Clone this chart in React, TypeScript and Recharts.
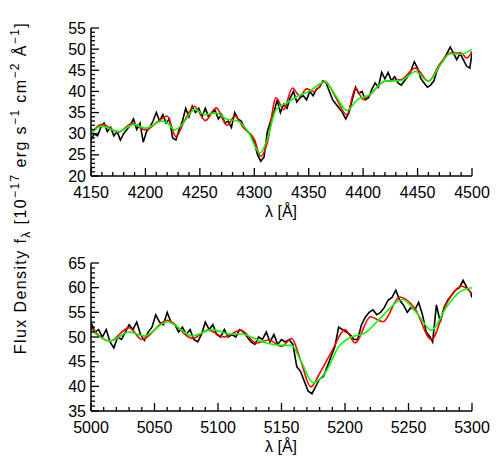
import React from "react";
import { LineChart, Line, XAxis, YAxis } from "recharts";

// wavelength grid (Å) and flux (10^-17 erg s^-1 cm^-2 Å^-1)
const topObsWave = [4150, 4153, 4156, 4159, 4162, 4165, 4168, 4171, 4174, 4177, 4180, 4183, 4186, 4189, 4192, 4195, 4198, 4201, 4204, 4207, 4210, 4213, 4216, 4219, 4222, 4225, 4228, 4231, 4234, 4237, 4240, 4243, 4246, 4249, 4252, 4255, 4258, 4261, 4264, 4267, 4270, 4273, 4276, 4279, 4282, 4285, 4288, 4291, 4294, 4297, 4300, 4303, 4306, 4309, 4312, 4315, 4318, 4321, 4324, 4327, 4330, 4333, 4336, 4339, 4342, 4345, 4348, 4351, 4354, 4357, 4360, 4363, 4366, 4369, 4372, 4375, 4378, 4381, 4384, 4387, 4390, 4393, 4396, 4399, 4402, 4405, 4408, 4411, 4414, 4417, 4420, 4423, 4426, 4429, 4432, 4435, 4438, 4441, 4444, 4447, 4450, 4453, 4456, 4459, 4462, 4465, 4468, 4471, 4474, 4477, 4480, 4483, 4486, 4489, 4492, 4495, 4498, 4500];
const topObsFlux = [28.5, 30, 29.5, 31.5, 32.5, 30.5, 31.5, 29.5, 30.5, 28.5, 30, 31, 32, 33.5, 31, 32.5, 28, 30.5, 31.5, 33, 35, 33, 34.5, 32.5, 33.5, 29, 28.5, 31, 33, 36, 34, 36.5, 35, 36, 34, 36, 34, 35, 35.5, 33.5, 34.5, 32.5, 33, 31.5, 35, 33.5, 33, 31.5, 30.5, 29.5, 28, 25, 23.5, 24.5, 30.5, 33, 35, 38, 35, 37, 36, 38.5, 40, 37.5, 38.5, 39, 38, 40, 39, 40.5, 41, 42.5, 42, 40, 38, 37, 36, 35, 33.5, 35, 38, 41, 39.5, 40, 38, 38.5, 40.5, 42, 41, 44.5, 43, 44.5, 42.5, 43.5, 42, 41.5, 42.5, 43.5, 45, 47, 45.5, 43, 42, 41, 41.5, 42.5, 45, 46.5, 47.5, 49, 50.5, 49, 47.5, 49, 47.5, 46, 45.5, 49];

const topRedWave = [4150, 4160, 4175, 4188, 4200, 4212, 4220, 4228, 4235, 4245, 4255, 4265, 4275, 4282, 4290, 4300, 4306, 4312, 4320, 4327, 4335, 4342, 4348, 4355, 4365, 4375, 4385, 4393, 4400, 4405, 4420, 4435, 4448, 4460, 4470, 4480, 4490, 4495, 4500];
const topRedFlux = [30, 32.2, 30.4, 32.4, 30.9, 33, 34.2, 29.3, 32.6, 36.5, 33.1, 36.1, 32, 34.2, 31.4, 28.7, 24.6, 27.9, 38.5, 35.7, 40.8, 38.9, 40.6, 40, 42.4, 38.5, 34.5, 40.8, 38.1, 38.9, 42.4, 42.8, 45.5, 42.4, 46.3, 49.1, 49.1, 47.9, 49.5];

const topGreenWave = [4150, 4160, 4175, 4190, 4200, 4215, 4220, 4227, 4235, 4245, 4255, 4265, 4275, 4285, 4295, 4305, 4312, 4320, 4330, 4340, 4350, 4365, 4375, 4385, 4395, 4405, 4420, 4435, 4448, 4460, 4470, 4480, 4490, 4500];
const topGreenFlux = [30, 31.8, 30.5, 32.2, 31.3, 33, 32.6, 30.9, 32.6, 35.7, 34.5, 34.9, 33.4, 33, 30.2, 25.4, 28.7, 35.7, 37.3, 38.9, 40, 42.2, 38.9, 35.5, 38.1, 39.1, 42.4, 42.6, 44.7, 42.4, 45.9, 48.9, 48.8, 50];

const botObsWave = [5000, 5003, 5006, 5009, 5012, 5015, 5018, 5021, 5024, 5027, 5030, 5033, 5036, 5039, 5042, 5045, 5048, 5051, 5054, 5057, 5060, 5063, 5066, 5069, 5072, 5075, 5078, 5081, 5084, 5087, 5090, 5093, 5096, 5099, 5102, 5105, 5108, 5111, 5114, 5117, 5120, 5123, 5126, 5129, 5132, 5135, 5138, 5141, 5144, 5147, 5150, 5153, 5156, 5159, 5162, 5165, 5168, 5171, 5174, 5177, 5180, 5183, 5186, 5189, 5192, 5195, 5198, 5201, 5204, 5207, 5210, 5213, 5216, 5219, 5222, 5225, 5228, 5231, 5234, 5237, 5240, 5243, 5246, 5249, 5252, 5255, 5258, 5261, 5264, 5267, 5269, 5272, 5275, 5278, 5281, 5284, 5287, 5290, 5293, 5296, 5299, 5300];
const botObsFlux = [53, 51, 51.5, 50, 51.5, 49, 47.8, 50, 49.5, 51, 52.5, 51.5, 53, 50.5, 49.3, 51, 52, 54.5, 53, 52.5, 55, 53, 52.5, 51, 52, 50.5, 51.5, 49.5, 49, 50.5, 53, 51.5, 52.5, 50.5, 50, 51.5, 50, 50.5, 50, 51.5, 51, 50, 49, 48.5, 50, 49.5, 51, 49, 50.5, 48.5, 49.5, 49, 49.5, 48.5, 44, 43, 41, 39, 38.5, 40, 41.5, 42, 44, 46, 48, 52, 51.5, 51, 50.5, 49.5, 49.5, 52.5, 54, 55, 55.5, 54.5, 55, 56, 57.5, 58, 59.5, 57.5, 56.5, 55, 56, 55.5, 57, 54.5, 51, 50, 49, 56.5, 53, 56, 57.5, 58.5, 59.5, 60, 61.5, 60, 59, 58];

const botRedWave = [5000, 5015, 5030, 5040, 5060, 5080, 5092, 5105, 5118, 5130, 5140, 5150, 5158, 5165, 5173, 5180, 5190, 5200, 5208, 5220, 5230, 5243, 5255, 5268, 5280, 5292, 5300];
const botRedFlux = [51.9, 49.2, 51.9, 49.5, 53.4, 49.7, 51.4, 50, 51.4, 48.8, 49.4, 48.1, 49.7, 45.3, 39.9, 42.6, 47.3, 51.5, 48.8, 54.1, 53.1, 58.1, 55.8, 49.5, 56.8, 60.3, 58.8];

const botGreenWave = [5000, 5015, 5030, 5042, 5060, 5080, 5095, 5110, 5118, 5135, 5150, 5158, 5165, 5175, 5185, 5195, 5205, 5215, 5230, 5245, 5257, 5268, 5280, 5290, 5300];
const botGreenFlux = [51.5, 49.2, 51, 50.2, 53.1, 50.2, 51.5, 50.6, 50.6, 49, 48.3, 48.3, 45.3, 40.7, 43, 48, 50, 50.7, 54.4, 57.6, 54.7, 51.4, 56.1, 59.1, 60];

// axis ranges and labelled ticks
const topWaveTicks = [4150, 4200, 4250, 4300, 4350, 4400, 4450, 4500];
const topFluxTicks = [20, 25, 30, 35, 40, 45, 50, 55];
const botWaveTicks = [5000, 5050, 5100, 5150, 5200, 5250, 5300];
const botFluxTicks = [35, 40, 45, 50, 55, 60, 65];
const waveMinor = 10;
const fluxMinor = 1;

const FONT = "'Liberation Sans', Arial, sans-serif";

const zip = (xs: number[], ys: number[]) => xs.map((x, i) => ({ x, y: ys[i] }));

const withMinor = (major: number[], step: number) => {
  const out: number[] = [];
  for (let v = major[0]; v <= major[major.length - 1] + 1e-9; v += step) out.push(Math.round(v * 100) / 100);
  return out;
};

const makeTick = (side: string, majorStep: number, labels: boolean) => (props: any) => {
  const { x, y, payload } = props;
  const v = payload.value;
  const major = Math.abs(v / majorStep - Math.round(v / majorStep)) < 1e-6;
  const len = major ? 8 : 4;
  let line;
  let text = null;
  if (side === "left") {
    line = <line x1={x} y1={y} x2={x + len} y2={y} stroke="#000" strokeWidth={1.3} />;
    if (major && labels)
      text = <text x={x - 5} y={y} dy={5.5} textAnchor="end" fontSize={16} fontFamily={FONT} fill="#000">{v}</text>;
  } else if (side === "right") {
    line = <line x1={x} y1={y} x2={x - len} y2={y} stroke="#000" strokeWidth={1.3} />;
  } else if (side === "top") {
    line = <line x1={x} y1={y} x2={x} y2={y + len} stroke="#000" strokeWidth={1.3} />;
  } else {
    line = <line x1={x} y1={y} x2={x} y2={y - len} stroke="#000" strokeWidth={1.3} />;
    if (major && labels)
      text = <text x={x} y={y + 22} textAnchor="middle" fontSize={16} fontFamily={FONT} fill="#000">{v}</text>;
  }
  return <g>{line}{text}</g>;
};

function SpectrumPanel({ top, height, plotTop, plotBottom, waveTicks, fluxTicks, obs, red, green }: any) {
  const xMinor = withMinor(waveTicks, waveMinor);
  const yMinor = withMinor(fluxTicks, fluxMinor);
  const xDomain = [waveTicks[0], waveTicks[waveTicks.length - 1]];
  const yDomain = [fluxTicks[0], fluxTicks[fluxTicks.length - 1]];
  const axisLine = { stroke: "#000", strokeWidth: 1.5 };
  return (
    <div style={{ position: "absolute", left: 0, top }}>
      <LineChart width={498} height={height} margin={{ top: plotTop, right: 26, left: 41, bottom: height - plotBottom - 30 }}>
        <XAxis xAxisId="b" type="number" dataKey="x" domain={xDomain} ticks={xMinor} interval={0} allowDataOverflow
          tickSize={0} tickMargin={0} tickLine={false} axisLine={axisLine} height={30} tick={makeTick("bottom", 50, true)} />
        <XAxis xAxisId="t" orientation="top" type="number" dataKey="x" domain={xDomain} ticks={xMinor} interval={0} allowDataOverflow
          tickSize={0} tickMargin={0} tickLine={false} axisLine={axisLine} height={0} tick={makeTick("top", 50, false)} />
        <YAxis yAxisId="l" type="number" domain={yDomain} ticks={yMinor} interval={0} allowDataOverflow
          tickSize={0} tickMargin={0} tickLine={false} axisLine={axisLine} width={50} tick={makeTick("left", 5, true)} />
        <YAxis yAxisId="r" orientation="right" type="number" domain={yDomain} ticks={yMinor} interval={0} allowDataOverflow
          tickSize={0} tickMargin={0} tickLine={false} axisLine={axisLine} width={0} tick={makeTick("right", 5, false)} />
        <Line xAxisId="b" yAxisId="l" data={obs} dataKey="y" type="linear" stroke="#000000" strokeWidth={1.6} dot={false} isAnimationActive={false} />
        <Line xAxisId="b" yAxisId="l" data={red} dataKey="y" type="monotone" stroke="#ff0000" strokeWidth={1.6} dot={false} isAnimationActive={false} />
        <Line xAxisId="b" yAxisId="l" data={green} dataKey="y" type="monotone" stroke="#00ff00" strokeWidth={1.6} dot={false} isAnimationActive={false} />
      </LineChart>
    </div>
  );
}

export default function App() {
  return (
    <div style={{ position: "absolute", left: 0, top: 0, width: 498, height: 469, background: "#fff", overflow: "hidden" }}>
      <SpectrumPanel top={0} height={235} plotTop={28} plotBottom={176}
        waveTicks={topWaveTicks} fluxTicks={topFluxTicks}
        obs={zip(topObsWave, topObsFlux)} red={zip(topRedWave, topRedFlux)} green={zip(topGreenWave, topGreenFlux)} />
      <SpectrumPanel top={240} height={229} plotTop={23} plotBottom={171}
        waveTicks={botWaveTicks} fluxTicks={botFluxTicks}
        obs={zip(botObsWave, botObsFlux)} red={zip(botRedWave, botRedFlux)} green={zip(botGreenWave, botGreenFlux)} />
      <svg width={498} height={469} style={{ position: "absolute", left: 0, top: 0, pointerEvents: "none" }}>
        <g fontFamily={FONT} fontSize={16} fill="#000">
          <text x={281} y={217} textAnchor="middle">λ [Å]</text>
          <text x={281} y={452} textAnchor="middle">λ [Å]</text>
          <text transform="translate(26,188) rotate(-90)" textAnchor="middle" letterSpacing={1.4}>
            Flux  Density  f<tspan fontSize={12} dy={4}>λ</tspan>
            <tspan dy={-4}>  [10</tspan><tspan fontSize={12} dy={-7}>−17</tspan>
            <tspan dy={7}> erg  s</tspan><tspan fontSize={12} dy={-7}>−1</tspan>
            <tspan dy={7}>  cm</tspan><tspan fontSize={12} dy={-7}>−2</tspan>
            <tspan dy={7}>  Å</tspan><tspan fontSize={12} dy={-7}>−1</tspan>
            <tspan dy={7}>]</tspan>
          </text>
        </g>
      </svg>
    </div>
  );
}
